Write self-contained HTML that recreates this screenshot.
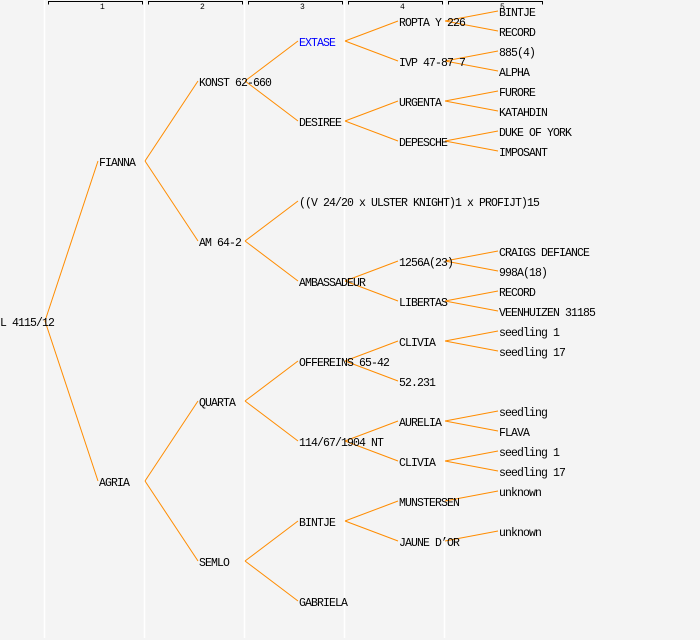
<!DOCTYPE html>
<html><head><meta charset="utf-8"><style>
html,body{margin:0;padding:0;background:#f4f4f4;}
svg{display:block;}
text{font-family:"Liberation Mono","DejaVu Sans Mono",monospace;font-size:11.5px;letter-spacing:-0.9px;fill:#000;}
.h{font-size:8px;letter-spacing:0;}
</style></head><body>
<svg width="700" height="640" xmlns="http://www.w3.org/2000/svg">
<rect x="0" y="0" width="700" height="640" fill="#f4f4f4"/>
<g stroke="#ffffff" stroke-width="1.5">
<line x1="44.5" y1="0" x2="44.5" y2="638"/>
<line x1="144.5" y1="0" x2="144.5" y2="638"/>
<line x1="244.5" y1="0" x2="244.5" y2="638"/>
<line x1="344.5" y1="0" x2="344.5" y2="638"/>
<line x1="444.5" y1="0" x2="444.5" y2="638"/>
</g>
<g stroke="#000" stroke-width="1" fill="none">
<path d="M48.5,4.5V1.5H142.5V4.5"/>
<path d="M148.5,4.5V1.5H242.5V4.5"/>
<path d="M248.5,4.5V1.5H342.5V4.5"/>
<path d="M348.5,4.5V1.5H442.5V4.5"/>
<path d="M448.5,4.5V1.5H542.5V4.5"/>
</g>
<text class="h" x="100" y="9">1</text>
<text class="h" x="200" y="9">2</text>
<text class="h" x="300" y="9">3</text>
<text class="h" x="400" y="9">4</text>
<text class="h" x="500" y="9">5</text>
<g stroke="#ff8c00" stroke-width="1" fill="none">
<line x1="45" y1="321" x2="98" y2="161"/><line x1="45" y1="321" x2="98" y2="481"/>
<line x1="145" y1="161" x2="198" y2="81"/><line x1="145" y1="161" x2="198" y2="241"/>
<line x1="145" y1="481" x2="198" y2="401"/><line x1="145" y1="481" x2="198" y2="561"/>
<line x1="245" y1="81" x2="298" y2="41"/><line x1="245" y1="81" x2="298" y2="121"/>
<line x1="245" y1="241" x2="298" y2="201"/><line x1="245" y1="241" x2="298" y2="281"/>
<line x1="245" y1="401" x2="298" y2="361"/><line x1="245" y1="401" x2="298" y2="441"/>
<line x1="245" y1="561" x2="298" y2="521"/><line x1="245" y1="561" x2="298" y2="601"/>
<line x1="345" y1="41" x2="398" y2="21"/><line x1="345" y1="41" x2="398" y2="61"/>
<line x1="345" y1="121" x2="398" y2="101"/><line x1="345" y1="121" x2="398" y2="141"/>
<line x1="345" y1="281" x2="398" y2="261"/><line x1="345" y1="281" x2="398" y2="301"/>
<line x1="345" y1="361" x2="398" y2="341"/><line x1="345" y1="361" x2="398" y2="381"/>
<line x1="345" y1="441" x2="398" y2="421"/><line x1="345" y1="441" x2="398" y2="461"/>
<line x1="345" y1="521" x2="398" y2="501"/><line x1="345" y1="521" x2="398" y2="541"/>
<line x1="445" y1="21" x2="498" y2="11"/><line x1="445" y1="21" x2="498" y2="31"/>
<line x1="445" y1="61" x2="498" y2="51"/><line x1="445" y1="61" x2="498" y2="71"/>
<line x1="445" y1="101" x2="498" y2="91"/><line x1="445" y1="101" x2="498" y2="111"/>
<line x1="445" y1="141" x2="498" y2="131"/><line x1="445" y1="141" x2="498" y2="151"/>
<line x1="445" y1="261" x2="498" y2="251"/><line x1="445" y1="261" x2="498" y2="271"/>
<line x1="445" y1="301" x2="498" y2="291"/><line x1="445" y1="301" x2="498" y2="311"/>
<line x1="445" y1="341" x2="498" y2="331"/><line x1="445" y1="341" x2="498" y2="351"/>
<line x1="445" y1="421" x2="498" y2="411"/><line x1="445" y1="421" x2="498" y2="431"/>
<line x1="445" y1="461" x2="498" y2="451"/><line x1="445" y1="461" x2="498" y2="471"/>
<line x1="445" y1="501" x2="498" y2="491"/>
<line x1="445" y1="541" x2="498" y2="531"/>
</g>
<g>
<text x="0" y="326">L 4115/12</text>
<text x="99" y="166">FIANNA</text>
<text x="99" y="486">AGRIA</text>
<text x="199" y="86">KONST 62-660</text>
<text x="199" y="246">AM 64-2</text>
<text x="199" y="406">QUARTA</text>
<text x="199" y="566">SEMLO</text>
<text x="299" y="46" style="fill:#0000ff">EXTASE</text>
<text x="299" y="126">DESIREE</text>
<text x="299" y="206">((V 24/20 x ULSTER KNIGHT)1 x PROFIJT)15</text>
<text x="299" y="286">AMBASSADEUR</text>
<text x="299" y="366">OFFEREINS 65-42</text>
<text x="299" y="446">114/67/1904 NT</text>
<text x="299" y="526">BINTJE</text>
<text x="299" y="606">GABRIELA</text>
<text x="399" y="26">ROPTA Y 226</text>
<text x="399" y="66">IVP 47-87 7</text>
<text x="399" y="106">URGENTA</text>
<text x="399" y="146">DEPESCHE</text>
<text x="399" y="266">1256A(23)</text>
<text x="399" y="306">LIBERTAS</text>
<text x="399" y="346">CLIVIA</text>
<text x="399" y="386">52.231</text>
<text x="399" y="426">AURELIA</text>
<text x="399" y="466">CLIVIA</text>
<text x="399" y="506">MUNSTERSEN</text>
<text x="399" y="546">JAUNE D’OR</text>
<text x="499" y="16">BINTJE</text>
<text x="499" y="36">RECORD</text>
<text x="499" y="56">885(4)</text>
<text x="499" y="76">ALPHA</text>
<text x="499" y="96">FURORE</text>
<text x="499" y="116">KATAHDIN</text>
<text x="499" y="136">DUKE OF YORK</text>
<text x="499" y="156">IMPOSANT</text>
<text x="499" y="256">CRAIGS DEFIANCE</text>
<text x="499" y="276">998A(18)</text>
<text x="499" y="296">RECORD</text>
<text x="499" y="316">VEENHUIZEN 31185</text>
<text x="499" y="336">seedling 1</text>
<text x="499" y="356">seedling 17</text>
<text x="499" y="416">seedling</text>
<text x="499" y="436">FLAVA</text>
<text x="499" y="456">seedling 1</text>
<text x="499" y="476">seedling 17</text>
<text x="499" y="496">unknown</text>
<text x="499" y="536">unknown</text>
</g>
</svg>
</body></html>
